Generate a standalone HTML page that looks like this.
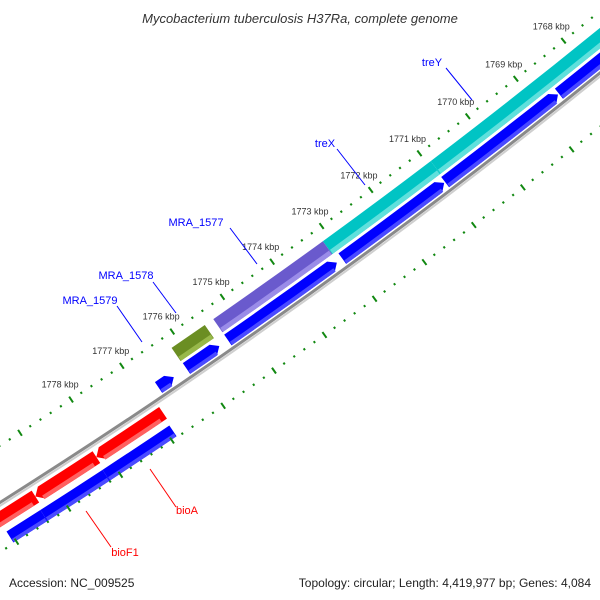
<!DOCTYPE html>
<html><head><meta charset="utf-8"><style>
html,body{margin:0;padding:0;background:#fff;}
svg{display:block;font-family:"Liberation Sans","DejaVu Sans",sans-serif;}
</style></head><body>
<svg id="map" width="600" height="600" viewBox="0 0 600 600" xmlns="http://www.w3.org/2000/svg">
<rect width="600" height="600" fill="#fff"/>
<g id="feat"></g>
<g id="bb"></g>
<g id="ticks"></g>
<g id="labels"></g>
<text x="300" y="23" text-anchor="middle" font-size="13" font-style="italic" fill="#333">Mycobacterium tuberculosis H37Ra, complete genome</text>
<text x="9" y="587" font-size="12" fill="#222">Accession: NC_009525</text>
<text x="591" y="587" text-anchor="end" font-size="12" fill="#222">Topology: circular; Length: 4,419,977 bp; Genes: 4,084</text>
</svg>
<script>
// data
const featStart = [1766.0, 1770.93, 1773.13, 1775.5, 1766.0, 1768.62, 1770.97, 1773.15, 1775.5, 1776.4, 1776.87, 1778.17, 1779.35, 1776.9, 1778.2, 1779.4];
const featEnd   = [1770.93, 1773.13, 1775.33, 1776.16, 1768.6, 1770.95, 1773.04, 1775.33, 1776.15, 1776.7, 1778.17, 1779.35, 1781.0, 1778.2, 1779.4, 1780.05];
const featRing  = ["gene-rev","gene-rev","gene-rev","gene-rev","cds-rev","cds-rev","cds-rev","cds-rev","cds-rev","cds-rev","gene-fwd","gene-fwd","gene-fwd","cds-fwd","cds-fwd","cds-fwd"];
const featColor = ["#00c4c4","#00c4c4","#6a5acd","#6b8e23","#0000ff","#0000ff","#0000ff","#0000ff","#0000ff","#0000ff","#ff0000","#ff0000","#ff0000","#0000ff","#0000ff","#0000ff"];
const featLight = ["#5fe0dc","#5fe0dc","#9a8ce8","#98b84a","#4a4aff","#4a4aff","#4a4aff","#4a4aff","#4a4aff","#4a4aff","#ff6060","#ff6060","#ff6060","#4a4aff","#4a4aff","#4a4aff"];
const featArrow = [0,0,0,0,1,1,1,1,1,1,1,1,1,0,0,0];
const majorTicks = [1768,1769,1770,1771,1772,1773,1774,1775,1776,1777,1778,1779,1780];
const tickLabels = ["1768 kbp","1769 kbp","1770 kbp","1771 kbp","1772 kbp","1773 kbp","1774 kbp","1775 kbp","1776 kbp","1777 kbp","1778 kbp"];
const geneNames = ["treY","treX","MRA_1577","MRA_1578","MRA_1579","bioA","bioF1"];
const geneColors = ["#0000ff","#0000ff","#0000ff","#0000ff","#0000ff","#ff0000","#ff0000"];

// geometry
const CX=-3418, CY=-4906, R0=6350, A0=51.17, DEG=0.55;
const rings={"gene-rev":[13,29],"cds-rev":[32,45],"gene-fwd":[55,69],"cds-fwd":[76,89]};
function ang(p){return (A0+(p-1768)*DEG)*Math.PI/180;}
function pt(p,d){const a=ang(p),r=R0+d;return [CX+r*Math.cos(a),CY+r*Math.sin(a)];}
function f(v){return v[0].toFixed(2)+","+v[1].toFixed(2);}
function arcPath(p1,p2,d1,d2,arrow){
  const r1=R0+d1,r2=R0+d2,h=0.12,m=(d1+d2)/2;
  let s=p1,e=p2,path="";
  if(arrow===1){ // tip at low p
    path="M"+f(pt(p1,m))+" L"+f(pt(p1+h,d1))+" A"+r1+","+r1+" 0 0 1 "+f(pt(p2,d1))+" L"+f(pt(p2,d2))+" A"+r2+","+r2+" 0 0 0 "+f(pt(p1+h,d2))+" Z";
  } else {
    path="M"+f(pt(p1,d1))+" A"+r1+","+r1+" 0 0 1 "+f(pt(p2,d1))+" L"+f(pt(p2,d2))+" A"+r2+","+r2+" 0 0 0 "+f(pt(p1,d2))+" Z";
  }
  return path;
}
const NS="http://www.w3.org/2000/svg";
const feat=document.getElementById('feat');
for(let i=0;i<featStart.length;i++){
  const [d1,d2]=rings[featRing[i]];
  let a=featArrow[i];
  let p1=featStart[i],p2=featEnd[i];
  const pa=document.createElementNS(NS,'path');
  if(featRing[i]==="gene-fwd"){ // arrow at high p: mirror by drawing with tip at p2
    const r1=R0+d1,r2=R0+d2,h=0.12,m=(d1+d2)/2;
    pa.setAttribute('d',"M"+f(pt(p1,d1))+" A"+r1+","+r1+" 0 0 1 "+f(pt(p2-h,d1))+" L"+f(pt(p2,m))+" L"+f(pt(p2-h,d2))+" A"+r2+","+r2+" 0 0 0 "+f(pt(p1,d2))+" Z");
  } else pa.setAttribute('d',arcPath(p1,p2,d1,d2,a));
  pa.setAttribute('fill',featColor[i]);
  
  
  feat.appendChild(pa);
  const hi=document.createElementNS(NS,'path');
  const dl=d1+(d2-d1)*0.7;
  hi.setAttribute('d',arcPath(p1+(a?0.1:0.01),p2-(featRing[i]==="gene-fwd"?0.1:0.01),dl,d2,0));
  hi.setAttribute('fill',featLight[i]);
  
  
  feat.appendChild(hi);
}
// backbone
const bb=document.getElementById('bb');
[[48,"#8a8a8a",3],[50.8,"#cfcfcf",2]].forEach((b,j)=>{
  const r=R0+b[0];
  const l=document.createElementNS(NS,'path');
  l.setAttribute('d',"M"+f(pt(1764,b[0]))+" A"+r+","+r+" 0 0 1 "+f(pt(1783,b[0])));
  l.setAttribute('stroke',b[1]);l.setAttribute('stroke-width',b[2]);l.setAttribute('fill','none');
  
  
  bb.appendChild(l);
});
// ticks
const tk=document.getElementById('ticks');
function tick(p,d,len,w,name){
  const l=document.createElementNS(NS,'line');
  const a=pt(p,d-len/2),b=pt(p,d+len/2);
  l.setAttribute('x1',a[0]);l.setAttribute('y1',a[1]);l.setAttribute('x2',b[0]);l.setAttribute('y2',b[1]);
  l.setAttribute('stroke','#118811');l.setAttribute('stroke-width',w);
  
  
  tk.appendChild(l);
}
for(let k=1765*5;k<=1782*5;k++){
  const p=k/5;
  const major=majorTicks.indexOf(Math.round(p))>=0 && k%5===0;
  [0,90].forEach(d=>tick(p,d,major?7:2.2,2,major?'major-tick':'minor-tick'));
}
majorTicks.forEach((p,i)=>{
  if(i>=tickLabels.length)return;
  const c=pt(p,-18);
  const t=document.createElementNS(NS,'text');
  t.setAttribute('x',c[0]-1);t.setAttribute('y',c[1]+3);
  t.setAttribute('text-anchor','middle');t.setAttribute('font-size','9');t.setAttribute('fill','#333');
  t.textContent=tickLabels[i];
  
  
  tk.appendChild(t);
});
// gene labels (label position + leader line)
const lab=document.getElementById('labels');
const labelPos=[[432,66],[325,147],[196,226],[126,279],[90,304],[187,514],[125,556]];
const lineFrom=[[446,68],[337,149],[230,228],[153,282],[117,306],[150,469],[86,511]];
const lineTo=[[472,100],[365,185],[257,264],[176,313],[142,342],[176,507],[111,547]];
geneNames.forEach((g,i)=>{
  const l=document.createElementNS(NS,'line');
  l.setAttribute('x1',lineFrom[i][0]);l.setAttribute('y1',lineFrom[i][1]);
  l.setAttribute('x2',lineTo[i][0]);l.setAttribute('y2',lineTo[i][1]);
  l.setAttribute('stroke',geneColors[i]);l.setAttribute('stroke-width','1');
  
  
  lab.appendChild(l);
  const t=document.createElementNS(NS,'text');
  t.setAttribute('x',labelPos[i][0]);t.setAttribute('y',labelPos[i][1]);
  t.setAttribute('text-anchor','middle');t.setAttribute('font-size','11');t.setAttribute('fill',geneColors[i]);
  t.textContent=g;
  
  
  lab.appendChild(t);
});
</script>
</body></html>
